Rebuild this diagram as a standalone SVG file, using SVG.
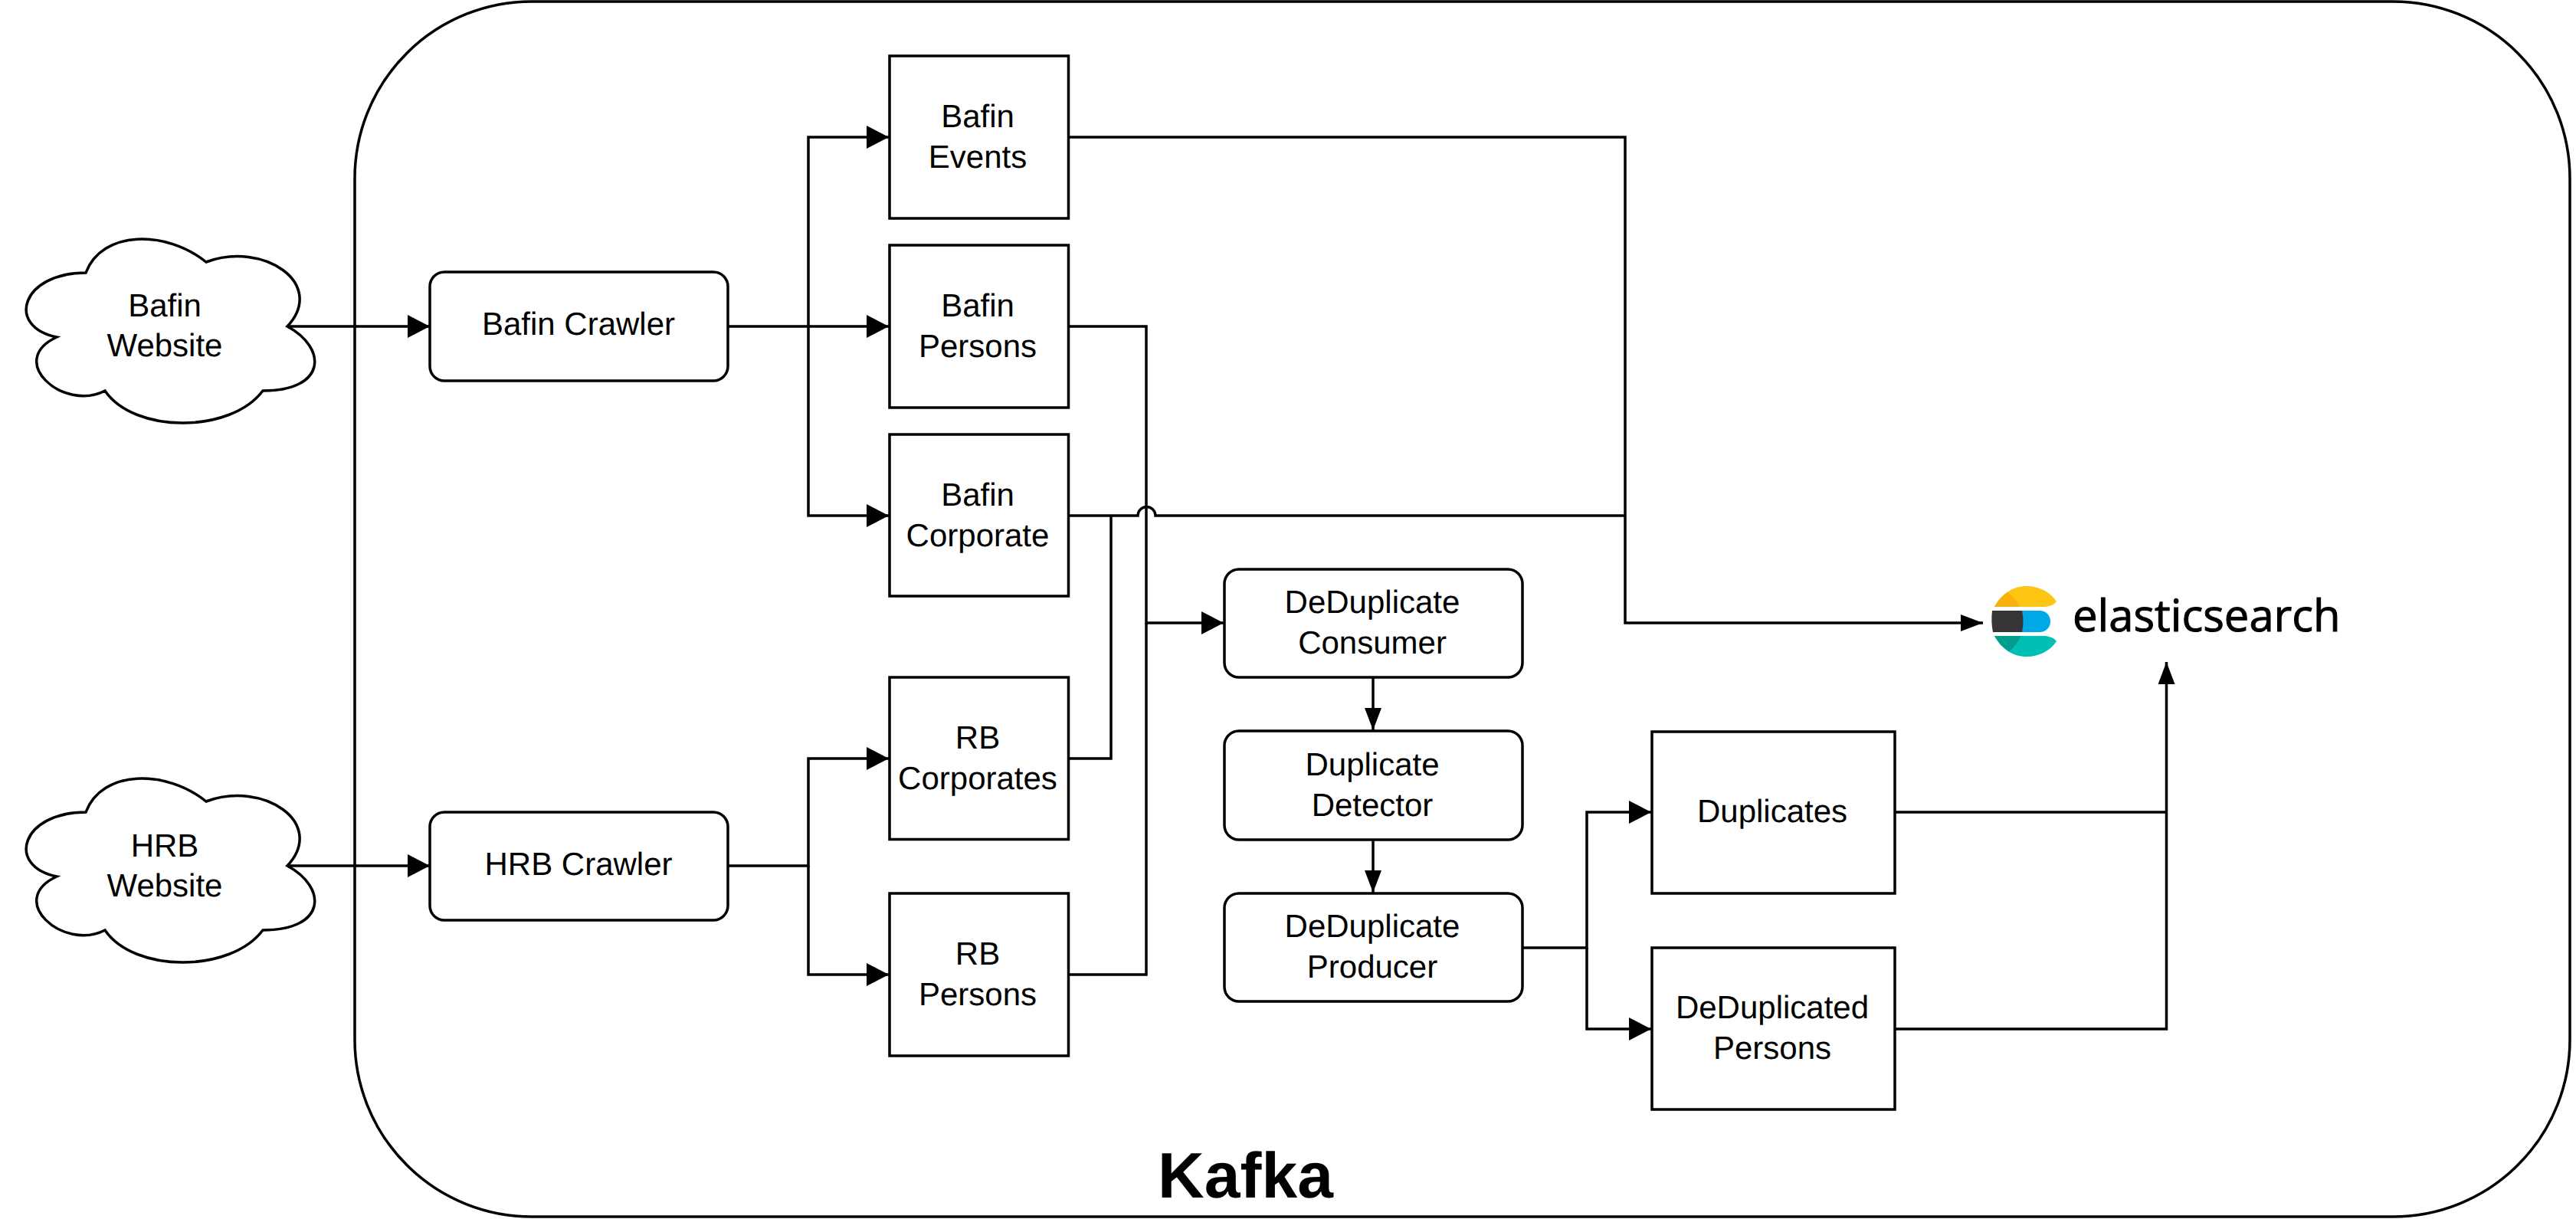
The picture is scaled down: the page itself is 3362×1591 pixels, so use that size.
<svg xmlns="http://www.w3.org/2000/svg" width="3362" height="1591" viewBox="0 0 3362 1591">
<style>
.n{fill:#fff;stroke:#000;stroke-width:3.500}
.c{fill:none;stroke:#000;stroke-width:3.500}
text{font-family:"Liberation Sans",Arial,sans-serif;font-size:42px;text-anchor:middle;fill:#000;text-rendering:geometricPrecision}
</style>
<defs>
<marker id="a" markerUnits="userSpaceOnUse" markerWidth="31" markerHeight="30" refX="29" refY="15" orient="auto"><path d="M0 0L29 15L0 30Z"/></marker>
<marker id="b" markerUnits="userSpaceOnUse" markerWidth="31" markerHeight="22" refX="29" refY="11" orient="auto"><path d="M0 0L29 11L0 22Z"/></marker>
<path id="cloud" d="M112 356C28 356 7 426 74 440C7 471 83 538 137 510C175 566 301 566 343 510C427 510 427 454 375 426C427 370 343 314 269 342C217 300 133 300 112 356Z"/>
</defs>
<rect width="3362" height="1591" fill="#fff"/>
<g id="kafka"><rect class="n" x="463" y="2" width="2891" height="1586" rx="231" ry="231"/><text x="1625.500" y="1563" style="font-size:84px;font-weight:700">Kafka</text></g>
<g id="connectors">
<path class="c" d="M375 426H561" marker-end="url(#a)"/>
<path class="c" d="M375 1130H561" marker-end="url(#a)"/>
<path class="c" d="M950 426H1160" marker-end="url(#a)"/>
<path class="c" d="M1055 426V179H1160" marker-end="url(#a)"/>
<path class="c" d="M1055 426V673H1160" marker-end="url(#a)"/>
<path class="c" d="M950 1130H1055V990H1160" marker-end="url(#a)"/>
<path class="c" d="M1055 1130V1272H1160" marker-end="url(#a)"/>
<path class="c" d="M1394 179H2121V813H2588" marker-end="url(#b)"/>
<path class="c" d="M1394 673H1485A11.500 11.500 0 0 1 1508 673H2121"/>
<path class="c" d="M1394 990H1450V673"/>
<path class="c" d="M1394 426H1496V813H1597" marker-end="url(#a)"/>
<path class="c" d="M1394 1272H1496V813"/>
<path class="c" d="M1792 884V953" marker-end="url(#b)"/>
<path class="c" d="M1792 1096V1165" marker-end="url(#b)"/>
<path class="c" d="M1987 1237H2071V1060H2155" marker-end="url(#a)"/>
<path class="c" d="M2071 1237V1343H2155" marker-end="url(#a)"/>
<path class="c" d="M2473 1060H2827.500"/>
<path class="c" d="M2473 1343H2827.500V864" marker-end="url(#b)"/>
</g>
<g id="bafin-website"><use href="#cloud" class="n"/><text x="215" y="413">Bafin</text><text x="215" y="465">Website</text></g>
<g id="hrb-website"><use href="#cloud" class="n" y="704"/><text x="215" y="1118">HRB</text><text x="215" y="1170">Website</text></g>
<g id="bafin-crawler"><rect class="n" x="561" y="355" width="389" height="142" rx="19"/><text x="755" y="437">Bafin Crawler</text></g>
<g id="hrb-crawler"><rect class="n" x="561" y="1060" width="389" height="141" rx="19"/><text x="755" y="1142">HRB Crawler</text></g>
<g id="bafin-events"><rect class="n" x="1161" y="73" width="233.500" height="212"/><text x="1276" y="166">Bafin</text><text x="1276" y="219">Events</text></g>
<g id="bafin-persons"><rect class="n" x="1161" y="320" width="233.500" height="212"/><text x="1276" y="413">Bafin</text><text x="1276" y="466">Persons</text></g>
<g id="bafin-corporate"><rect class="n" x="1161" y="567" width="233.500" height="211"/><text x="1276" y="659.500">Bafin</text><text x="1276" y="712.500">Corporate</text></g>
<g id="rb-corporates"><rect class="n" x="1161" y="884" width="233.500" height="211.500"/><text x="1276" y="977">RB</text><text x="1276" y="1030">Corporates</text></g>
<g id="rb-persons"><rect class="n" x="1161" y="1166" width="233.500" height="212"/><text x="1276" y="1259">RB</text><text x="1276" y="1312">Persons</text></g>
<g id="dedup-consumer"><rect class="n" x="1598" y="743" width="389" height="141" rx="19"/><text x="1791" y="800">DeDuplicate</text><text x="1791" y="853">Consumer</text></g>
<g id="duplicate-detector"><rect class="n" x="1598" y="954" width="389" height="142" rx="19"/><text x="1791" y="1012">Duplicate</text><text x="1791" y="1065">Detector</text></g>
<g id="dedup-producer"><rect class="n" x="1598" y="1166" width="389" height="141" rx="19"/><text x="1791" y="1223">DeDuplicate</text><text x="1791" y="1276">Producer</text></g>
<g id="duplicates"><rect class="n" x="2156" y="955" width="317" height="211"/><text x="2313" y="1073">Duplicates</text></g>
<g id="deduplicated-persons"><rect class="n" x="2156" y="1237" width="317" height="211"/><text x="2313" y="1329">DeDuplicated</text><text x="2313" y="1382">Persons</text></g>
<g id="elasticsearch">
<path fill="#fec514" d="M2603 792C2612 775 2627 765 2645 765C2662 765 2676 773 2684 785C2680 790 2674 792 2667 792Z"/>
<path fill="#f9b110" d="M2603 792C2607 784 2613 778 2620 773C2628 778 2633 785 2636 792Z"/>
<path fill="#00a9e5" d="M2636 797H2662C2670 797 2676 803 2676 811C2676 819 2670 825 2662 825H2636Z"/>
<path fill="#353535" d="M2600 797H2639C2641 806 2641 816 2639 825H2601C2599 816 2599 806 2600 797Z"/>
<path fill="#00bfb3" d="M2603 830H2667C2674 830 2680 832 2684 837C2676 849 2662 857 2645 857C2627 857 2612 847 2603 830Z"/>
<path fill="#019b8f" d="M2603 830H2637C2634 838 2629 845 2622 850C2614 845 2608 838 2603 830Z"/>
<text x="2705" y="824" style="font-family:'Open Sans',sans-serif;font-size:58px;text-anchor:start;stroke:#000;stroke-width:1">elasticsearch</text>
</g>
</svg>
